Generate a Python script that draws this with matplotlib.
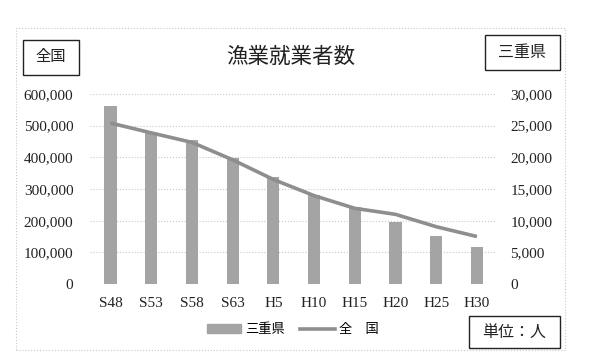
import matplotlib
matplotlib.use("Agg")
import matplotlib.pyplot as plt
import matplotlib.patches as mpatches
import matplotlib.lines as mlines
from matplotlib.ticker import FuncFormatter

# ---------------------------------------------------------------------------
# data
# ---------------------------------------------------------------------------
years = ["S48", "S53", "S58", "S63", "H5", "H10", "H15", "H20", "H25", "H30"]
mie = [28100, 24000, 22700, 19900, 16900, 14000, 12150, 9800, 7600, 5850]
zenkoku = [508000, 477000, 447000, 392000, 330000, 279000, 239000, 220000, 181000, 150000]

left_ticks = [0, 100000, 200000, 300000, 400000, 500000, 600000]
right_ticks = [0, 5000, 10000, 15000, 20000, 25000, 30000]

CJK = ["Noto Sans CJK JP", "DejaVu Sans"]
SERIF = "Liberation Serif"

BAR_C = "#a4a4a4"
LINE_C = "#8e8e8e"
TXT_C = "#222222"

fig = plt.figure(figsize=(5.97, 3.61), dpi=100)

# outer dotted frame
fig.patches.append(mpatches.Rectangle((0.027, 0.031), 0.919, 0.892, transform=fig.transFigure,
                                      fill=False, edgecolor="#c8c8c8", linestyle=":", linewidth=0.8))

ax = fig.add_axes([0.151, 0.213, 0.682, 0.527])
ax2 = ax.twinx()
x = list(range(len(years)))
fmt = FuncFormatter(lambda v, p: f"{int(v):,}")

# bars (三重県) -> right scale
ax.bar(x, mie, width=0.3, color=BAR_C, zorder=2)
ax.set_ylim(0, 30000)
ax.set_xlim(-0.5, len(years) - 0.5)
ax.set_yticks(right_ticks)
ax.yaxis.set_major_formatter(fmt)
ax.grid(axis="y", color="#c8c8c8", linestyle=":", linewidth=0.8, zorder=0)
ax.set_axisbelow(True)
ax.set_xticks(x)
ax.set_xticklabels(years)

# line (全国) -> left scale
ax2.plot(x, zenkoku, color=LINE_C, linewidth=2.6, solid_capstyle="butt", zorder=3)
ax2.set_ylim(0, 600000)
ax2.set_yticks(left_ticks)
ax2.yaxis.set_major_formatter(fmt)

# swap sides: bars' scale on the right, line's scale on the left
ax.yaxis.tick_right()
ax2.yaxis.tick_left()

for a in (ax, ax2):
    for s in a.spines.values():
        s.set_visible(False)
ax.tick_params(axis="y", length=0, pad=9.5, labelsize=11, labelcolor=TXT_C,
               left=False, labelleft=False, right=False, labelright=True)
ax.tick_params(axis="x", length=0, pad=9, labelsize=11, labelcolor=TXT_C)
ax2.tick_params(axis="y", length=0, pad=12, labelsize=11, labelcolor=TXT_C,
                right=False, labelright=False, left=False, labelleft=True)
for lab in ax.get_yticklabels() + ax.get_xticklabels() + ax2.get_yticklabels():
    lab.set_fontfamily(SERIF)

# title
fig.text(0.487, 0.842, "漁業就業者数", ha="center", va="center", fontsize=15.5,
         family=CJK, color=TXT_C)


def boxed(cx, cy, w, h, text, size):
    fig.patches.append(mpatches.Rectangle((cx - w / 2, cy - h / 2), w, h, transform=fig.transFigure,
                                          fill=False, edgecolor=TXT_C, linewidth=1.0))
    fig.text(cx, cy, text, ha="center", va="center", fontsize=size, family=CJK, color=TXT_C)


boxed(51 / 597, 1 - 57 / 361, 55 / 597, 35 / 361, "全国", 11)
boxed(522 / 597, 1 - 52 / 361, 75 / 597, 35 / 361, "三重県", 11.5)
boxed(514 / 597, 1 - 332 / 361, 91 / 597, 32 / 361, "単位：人", 11.5)

# legend
handles = [mpatches.Patch(color=BAR_C, label="三重県"),
           mlines.Line2D([], [], color=LINE_C, linewidth=2.6, label="全　国")]
fig.legend(handles=handles, loc="center", bbox_to_anchor=(0.49, 0.087), ncol=2, frameon=False,
           prop={"family": CJK, "size": 9.5}, handlelength=2.6, handleheight=0.6,
           handletextpad=0.3, columnspacing=1.2)

fig.savefig("out.png", dpi=100)
